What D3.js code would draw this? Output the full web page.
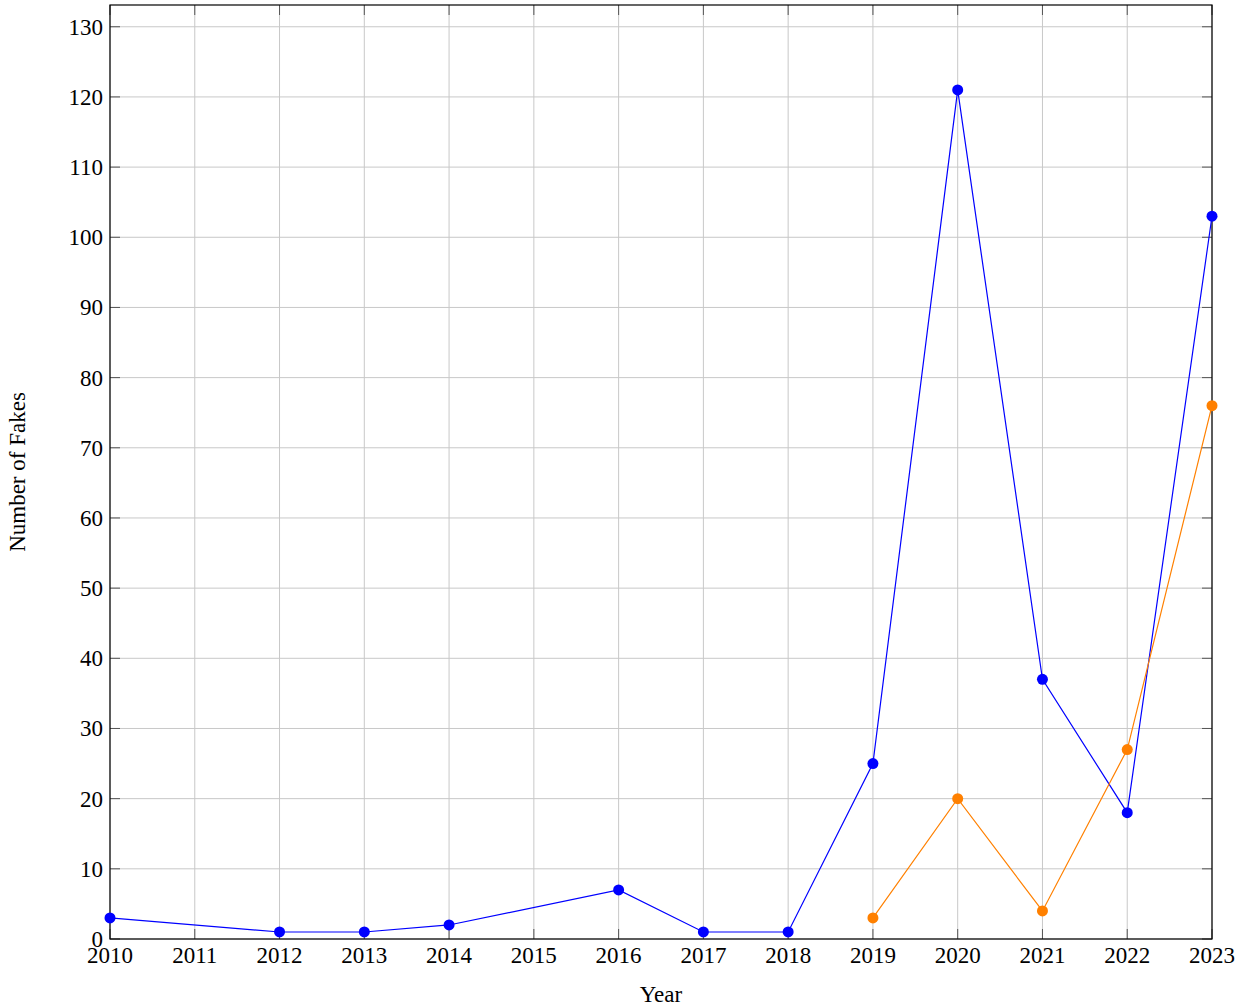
<!DOCTYPE html>
<meta charset="utf-8">
<script src="https://d3js.org/d3.v7.min.js"></script>
<style>
body { margin: 0; background: #fff; }
text { font-family: "Liberation Serif", "DejaVu Serif", serif; fill: #000; }
</style>
<div id="chart"></div>
<script>
// data
var years = [2010, 2011, 2012, 2013, 2014, 2015, 2016, 2017, 2018, 2019, 2020, 2021, 2022, 2023]
var blueYears = [2010, 2012, 2013, 2014, 2016, 2017, 2018, 2019, 2020, 2021, 2022, 2023]
var blueValues = [3, 1, 1, 2, 7, 1, 1, 25, 121, 37, 18, 103]
var orangeYears = [2019, 2020, 2021, 2022, 2023]
var orangeValues = [3, 20, 4, 27, 76]
var yTicks = [0, 10, 20, 30, 40, 50, 60, 70, 80, 90, 100, 110, 120, 130]

var width = 1245, height = 1007
var plotLeft = 110, plotRight = 1212, plotTop = 5, plotBottom = 939
var fontSize = "23px"

var svg = d3.select("#chart").append("svg")
  .attr("width", width)
  .attr("height", height)

var x = d3.scaleLinear().domain([2010, 2023]).range([plotLeft, plotRight])
var y = d3.scaleLinear().domain([0, 133.1]).range([plotBottom, plotTop])

// grid
svg.append("g").selectAll("line").data(years).enter().append("line")
  .attr("x1", d => x(d)).attr("x2", d => x(d))
  .attr("y1", plotTop).attr("y2", plotBottom)
  .attr("stroke", "#c8c8c8").attr("stroke-width", 1)
svg.append("g").selectAll("line").data(yTicks).enter().append("line")
  .attr("x1", plotLeft).attr("x2", plotRight)
  .attr("y1", d => y(d)).attr("y2", d => y(d))
  .attr("stroke", "#c8c8c8").attr("stroke-width", 1)

// inner tick marks on all four sides
var tk = svg.append("g").attr("stroke", "#555").attr("stroke-width", 1)
years.forEach(function(d) {
  tk.append("line").attr("x1", x(d)).attr("x2", x(d)).attr("y1", plotBottom).attr("y2", plotBottom - 10)
  tk.append("line").attr("x1", x(d)).attr("x2", x(d)).attr("y1", plotTop).attr("y2", plotTop + 10)
})
yTicks.forEach(function(d) {
  tk.append("line").attr("x1", plotLeft).attr("x2", plotLeft + 10).attr("y1", y(d)).attr("y2", y(d))
  tk.append("line").attr("x1", plotRight).attr("x2", plotRight - 10).attr("y1", y(d)).attr("y2", y(d))
})

// frame
svg.append("rect")
  .attr("x", plotLeft).attr("y", plotTop)
  .attr("width", plotRight - plotLeft).attr("height", plotBottom - plotTop)
  .attr("fill", "none").attr("stroke", "#000").attr("stroke-width", 1.2)

// tick labels
svg.append("g").selectAll("text").data(years).enter().append("text")
  .attr("x", d => x(d)).attr("y", plotBottom + 24)
  .attr("text-anchor", "middle").style("font-size", fontSize)
  .text(d => d)
svg.append("g").selectAll("text").data(yTicks).enter().append("text")
  .attr("x", plotLeft - 7).attr("y", d => y(d) + 8)
  .attr("text-anchor", "end").style("font-size", fontSize)
  .text(d => d)

// axis titles
svg.append("text")
  .attr("x", (plotLeft + plotRight) / 2).attr("y", 1002)
  .attr("text-anchor", "middle").style("font-size", fontSize)
  .text("Year")
svg.append("text")
  .attr("transform", "translate(25," + ((plotTop + plotBottom) / 2) + ") rotate(-90)")
  .attr("text-anchor", "middle").style("font-size", fontSize)
  .text("Number of Fakes")

// series
function drawSeries(xs, vs, color) {
  var pts = xs.map(function(d, i) { return [d, vs[i]] })
  var line = d3.line().x(d => x(d[0])).y(d => y(d[1]))
  svg.append("path").datum(pts)
    .attr("d", line).attr("fill", "none")
    .attr("stroke", color).attr("stroke-width", 1.2)
  svg.append("g").selectAll("circle").data(pts).enter().append("circle")
    .attr("cx", d => x(d[0])).attr("cy", d => y(d[1]))
    .attr("r", 5.5).attr("fill", color)
}
drawSeries(blueYears, blueValues, "#0000ff")
drawSeries(orangeYears, orangeValues, "#ff8000")
</script>
